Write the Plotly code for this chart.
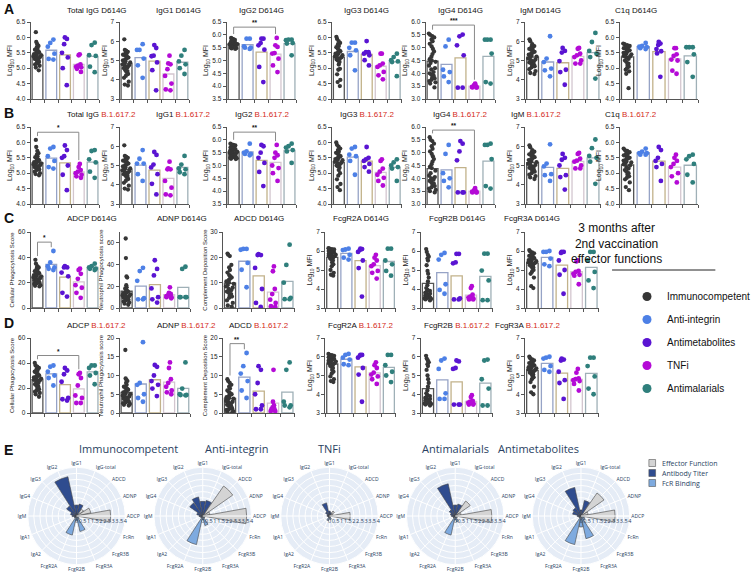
import plotly.graph_objects as go

W, H = 756, 580
FONT = "Arial, Liberation Sans, sans-serif"
PFONT = "Open Sans, sans-serif"
RED = "#d42a20"
AX = "#555555"

GROUPS = ["Immunocompetent", "Anti-integrin", "Antimetabolites", "TNFi", "Antimalarials"]
DOT_COLORS = ["#363636", "#4d80e6", "#5a14d2", "#b40ad6", "#2f7f7c"]
BAR_LINES = ["#555555", "#96a3c6", "#c2b28a", "#d3c6cf", "#9fb0b7"]

# ---------------- data (log10 MFI / scores), groups in GROUPS order ----------------
total_igg_d614g = [
    [6.17, 5.85, 5.78, 5.72, 5.68, 5.63, 5.6, 5.57, 5.55, 5.52, 5.5, 5.48, 5.46, 5.44, 5.42, 5.4, 5.38, 5.36, 5.34, 5.32, 5.3, 5.28, 5.25, 5.22, 5.2, 5.16, 5.12, 5.08, 5.02, 4.93],
    [5.93, 5.82, 5.7, 5.47, 5.28, 5.3],
    [6.0, 5.95, 5.78, 5.5, 5.35, 5.0, 4.45],
    [5.45, 5.42, 5.12, 5.08, 5.05, 5.03, 4.98, 4.88],
    [5.83, 5.75, 5.42, 5.4, 5.05, 4.87]]
igg1_d614g = [
    [6.1, 5.55, 5.5, 5.45, 5.4, 5.35, 5.3, 5.25, 5.2, 5.15, 5.1, 5.05, 5.0, 4.95, 4.9, 4.85, 4.8, 4.75, 4.7, 4.65, 4.6, 4.5, 4.45, 4.4, 4.3, 4.2, 4.1, 3.9, 3.75, 3.7],
    [5.85, 5.55, 5.55, 5.1, 4.75, 4.1],
    [5.8, 5.65, 5.25, 5.22, 4.9, 4.5, 3.45],
    [5.25, 4.85, 4.8, 4.55, 4.2, 3.8, 3.5, 3.45],
    [5.55, 5.25, 4.95, 4.8, 4.6, 4.3]]
igg2_d614g = [
    [5.88, 5.85, 5.83, 5.8, 5.78, 5.76, 5.74, 5.72, 5.7, 5.69, 5.68, 5.67, 5.66, 5.65, 5.64, 5.63, 5.62, 5.61, 5.6, 5.59, 5.58, 5.57, 5.56, 5.55, 5.54, 5.52, 5.5, 5.48, 5.47, 5.45],
    [5.85, 5.85, 5.55, 5.5, 5.5, 5.45],
    [5.85, 5.85, 5.68, 5.59, 5.42, 4.75, 4.16],
    [5.88, 5.59, 5.53, 5.29, 5.27, 5.07, 4.81, 4.55],
    [5.81, 5.81, 5.79, 5.68, 5.66, 5.2]]
igg3_d614g = [
    [6.02, 5.95, 5.88, 5.82, 5.78, 5.72, 5.68, 5.62, 5.58, 5.55, 5.52, 5.5, 5.47, 5.45, 5.42, 5.4, 5.38, 5.35, 5.32, 5.3, 5.28, 5.25, 5.2, 5.12, 4.98, 4.95, 4.8, 4.62, 4.55, 4.42],
    [5.83, 5.83, 5.66, 5.58, 5.42, 4.93],
    [5.88, 5.52, 5.52, 5.47, 5.42, 5.26, 5.09],
    [5.47, 5.47, 5.15, 5.09, 5.04, 4.88, 4.77, 4.64],
    [5.47, 5.36, 5.26, 5.22, 5.2, 4.74]]
igg4_d614g = [
    [5.55, 5.5, 5.45, 5.4, 5.32, 5.25, 5.15, 5.05, 4.95, 4.85, 4.75, 4.65, 4.55, 4.5, 4.45, 4.4, 4.3, 4.2, 4.15, 4.05, 4.0, 3.95, 3.9, 3.85, 3.8, 3.75, 3.7, 3.65, 3.6, 3.45],
    [5.31, 5.05, 4.14, 4.05, 3.88, 3.66],
    [5.51, 5.44, 5.09, 4.7, 3.44, 3.44],
    [3.6, 3.55, 3.5, 3.47, 3.45, 3.45, 3.45, 3.5],
    [5.31, 5.31, 5.31, 4.77, 3.66, 3.6]]
igm_d614g = [
    [6.1, 6.0, 5.85, 5.75, 5.7, 5.65, 5.6, 5.55, 5.5, 5.45, 5.4, 5.35, 5.3, 5.25, 5.2, 5.15, 5.1, 5.05, 5.0, 4.95, 4.9, 4.85, 4.8, 4.75, 4.7, 4.65, 4.55, 4.45, 4.35, 4.3],
    [6.26, 5.1, 4.92, 4.58, 4.49, 4.18],
    [5.65, 5.5, 5.41, 4.97, 4.52, 4.4, 3.74],
    [5.65, 5.61, 5.35, 5.27, 5.18, 5.0, 4.84, 4.84],
    [6.43, 5.96, 5.5, 5.35, 5.18, 4.06]]
c1q_d614g = [
    [5.8, 5.78, 5.75, 5.72, 5.7, 5.68, 5.65, 5.62, 5.6, 5.58, 5.55, 5.52, 5.5, 5.48, 5.45, 5.42, 5.4, 5.38, 5.35, 5.3, 5.25, 5.2, 5.15, 5.1, 5.05, 5.0, 4.95, 4.9, 4.82, 4.35],
    [5.82, 5.72, 5.7, 5.68, 5.65, 5.62],
    [5.85, 5.8, 5.75, 5.62, 5.55, 5.48, 4.72],
    [5.65, 5.65, 5.45, 5.4, 5.28, 5.25, 4.92, 4.82],
    [5.68, 5.68, 5.68, 5.45, 5.2, 4.72]]

total_igg_delta = [
    [6.08, 5.85, 5.72, 5.65, 5.6, 5.55, 5.52, 5.48, 5.45, 5.42, 5.4, 5.38, 5.36, 5.34, 5.32, 5.3, 5.28, 5.26, 5.24, 5.22, 5.2, 5.18, 5.16, 5.14, 5.12, 5.1, 5.05, 5.0, 4.97, 4.93],
    [5.85, 5.8, 5.55, 5.4, 5.2, 5.15],
    [5.9, 5.75, 5.55, 5.5, 5.25, 4.95, 4.45],
    [5.3, 5.2, 5.1, 5.05, 5.0, 4.95, 4.9, 4.85],
    [5.75, 5.72, 5.45, 5.35, 5.05, 4.85]]
igg1_delta = [
    [6.05, 5.5, 5.45, 5.4, 5.35, 5.3, 5.25, 5.2, 5.15, 5.1, 5.05, 5.0, 4.95, 4.9, 4.85, 4.8, 4.75, 4.7, 4.65, 4.6, 4.55, 4.5, 4.45, 4.4, 4.3, 4.2, 4.1, 3.95, 3.8, 3.75],
    [5.8, 5.35, 5.1, 5.1, 4.55, 4.2],
    [5.7, 5.55, 5.05, 4.9, 4.55, 4.05, 3.5],
    [5.2, 4.85, 4.8, 4.8, 4.2, 3.85, 3.5, 3.45],
    [5.5, 5.05, 4.85, 4.8, 4.65, 4.55]]
igg2_delta = [
    [5.85, 5.82, 5.8, 5.78, 5.75, 5.72, 5.7, 5.68, 5.66, 5.64, 5.62, 5.6, 5.58, 5.56, 5.54, 5.52, 5.5, 5.48, 5.46, 5.44, 5.42, 5.4, 5.38, 5.36, 5.34, 5.32, 5.3, 5.28, 5.26, 5.25],
    [5.85, 5.55, 5.5, 5.45, 5.45, 5.4],
    [5.8, 5.75, 5.5, 5.3, 5.1, 4.75, 4.2],
    [5.8, 5.5, 5.4, 5.3, 5.0, 4.9, 4.7, 4.4],
    [5.85, 5.75, 5.7, 5.6, 5.55, 5.1]]
igg3_delta = [
    [6.0, 5.92, 5.86, 5.8, 5.75, 5.7, 5.66, 5.62, 5.58, 5.55, 5.52, 5.49, 5.46, 5.44, 5.42, 5.4, 5.37, 5.34, 5.31, 5.28, 5.25, 5.22, 5.18, 5.1, 5.0, 4.92, 4.8, 4.65, 4.55, 4.45],
    [5.85, 5.8, 5.6, 5.55, 5.4, 4.95],
    [5.85, 5.5, 5.45, 5.4, 5.3, 5.2, 5.05],
    [5.45, 5.4, 5.15, 5.05, 4.95, 4.85, 4.75, 4.6],
    [5.45, 5.35, 5.25, 5.2, 5.15, 4.75]]
igg4_delta = [
    [5.6, 5.5, 5.45, 5.35, 5.25, 5.15, 5.05, 4.95, 4.85, 4.75, 4.65, 4.55, 4.45, 4.4, 4.3, 4.2, 4.1, 4.05, 4.0, 3.95, 3.9, 3.85, 3.8, 3.75, 3.7, 3.65, 3.6, 3.55, 3.5, 3.45],
    [5.3, 4.95, 4.2, 4.0, 3.9, 3.65],
    [5.45, 5.35, 5.05, 4.7, 3.45, 3.45, 3.45],
    [3.62, 3.55, 3.5, 3.48, 3.46, 3.45, 3.45, 3.5],
    [5.35, 5.3, 5.3, 4.75, 3.7, 3.6]]
igm_delta = [
    [6.05, 5.95, 5.8, 5.72, 5.68, 5.62, 5.58, 5.52, 5.48, 5.43, 5.38, 5.33, 5.28, 5.23, 5.18, 5.13, 5.08, 5.03, 4.98, 4.93, 4.88, 4.83, 4.78, 4.73, 4.68, 4.6, 4.52, 4.45, 4.38, 4.3],
    [6.1, 5.1, 4.95, 4.55, 4.5, 4.2],
    [5.6, 5.4, 5.3, 5.0, 4.5, 4.4, 3.75],
    [5.65, 5.6, 5.35, 5.25, 5.2, 5.0, 4.85, 4.85],
    [6.35, 5.9, 5.5, 5.4, 5.2, 4.05]]
c1q_delta = [
    [5.8, 5.75, 5.72, 5.68, 5.65, 5.62, 5.58, 5.55, 5.52, 5.5, 5.47, 5.44, 5.41, 5.38, 5.35, 5.32, 5.29, 5.25, 5.2, 5.15, 5.1, 5.05, 5.0, 4.95, 4.9, 4.85, 4.8, 4.7, 4.55, 4.45],
    [5.8, 5.7, 5.65, 5.65, 5.6, 5.6],
    [5.85, 5.75, 5.5, 5.4, 5.3, 5.2, 4.75],
    [5.6, 5.5, 5.4, 5.3, 5.2, 5.0, 4.9, 4.7],
    [5.6, 5.55, 5.45, 5.3, 4.95, 4.7]]

adcp_d614g = [
    [38, 35, 33, 32, 31, 30, 29, 28.5, 28, 27.5, 27, 26.5, 26, 25.5, 25, 24.5, 24, 23.5, 23, 22.5, 22, 21.5, 21, 20.5, 20, 19.5, 19, 18, 17.5, 17],
    [45, 36, 33, 32, 31, 30],
    [33, 32, 32, 28, 25, 12, 9],
    [31, 30, 27, 23, 18, 16, 12, 8],
    [35, 33, 32, 31, 31, 30]]
adnp_d614g = [
    [64, 46, 29, 28, 21, 19, 18, 17, 16, 15, 14.5, 14, 13.5, 13, 12.5, 12, 11.5, 11, 10.5, 10, 9.5, 9, 8.5, 8, 7.5, 7, 6, 5, 4, 3],
    [37, 34, 25, 9, 8, 8],
    [44, 36, 30, 18, 10, 8, 5],
    [19, 14, 13, 12, 11, 10, 10, 9],
    [38, 36, 10, 10, 10, 10]]
adcd_d614g = [
    [21.5, 21, 20.5, 17, 16, 15, 14, 13, 12.5, 12, 11.5, 11, 10.5, 10, 9.5, 9, 8.5, 8, 7.5, 7, 6.5, 6, 5.5, 5, 4.5, 4, 3, 2, 1, 0.5],
    [23.3, 23.3, 23, 17.8, 15.1, 8.2],
    [21.3, 20.9, 20.9, 15.8, 7.5, 2, 0.4],
    [16.4, 14.5, 7.5, 5.5, 3.3, 2.0, 0.7, 0.4],
    [25, 17, 10, 4, 3.5, 3.5]]
fcgr2a_d614g = [
    [6.15, 6.12, 6.1, 6.08, 6.05, 6.02, 6.0, 5.98, 5.95, 5.92, 5.9, 5.88, 5.85, 5.82, 5.8, 5.78, 5.75, 5.72, 5.7, 5.65, 5.6, 5.55, 5.5, 5.4, 5.3, 5.2, 5.0, 4.85, 4.75, 4.7],
    [6.12, 6.08, 6.05, 5.8, 5.65, 5.55],
    [6.12, 6.1, 6.05, 5.95, 5.5, 5.1, 3.6],
    [5.8, 5.65, 5.5, 5.3, 5.2, 4.95, 4.85, 4.55],
    [6.12, 6.12, 5.5, 5.3, 4.95, 4.7]]
fcgr2b_d614g = [
    [6.1, 5.95, 5.8, 5.7, 5.6, 5.5, 5.25, 4.95, 4.8, 4.6, 4.4, 4.2, 4.05, 3.95, 3.9, 3.85, 3.8, 3.75, 3.7, 3.68, 3.65, 3.62, 3.6, 3.58, 3.55, 3.52, 3.5, 3.48, 3.45, 3.4],
    [5.9, 5.8, 5.55, 4.25, 3.95, 3.75],
    [5.85, 5.85, 5.4, 5.35, 3.5, 3.45, 3.45],
    [4.15, 4.05, 3.7, 3.6, 3.55, 3.5, 3.45, 3.45],
    [5.86, 5.86, 4.97, 4.45, 3.41, 3.41]]
fcgr3a_d614g = [
    [6.05, 5.98, 5.92, 5.88, 5.82, 5.78, 5.74, 5.7, 5.66, 5.62, 5.58, 5.55, 5.52, 5.49, 5.46, 5.43, 5.4, 5.37, 5.34, 5.3, 5.25, 5.2, 5.15, 5.1, 5.0, 4.9, 4.8, 4.6, 4.15, 4.05],
    [6.0, 5.95, 5.95, 5.6, 5.3, 5.2],
    [5.95, 5.95, 5.9, 5.5, 5.0, 4.75, 3.75],
    [5.5, 5.45, 4.95, 4.9, 4.8, 4.75, 4.7, 4.25],
    [5.95, 5.95, 5.5, 4.9, 4.45, 4.05]]

adcp_delta = [
    [40, 38, 37, 36, 35, 34, 33, 32, 31, 30, 29.5, 29, 28.5, 28, 27.5, 27, 26.5, 26, 25, 24, 23, 22, 21, 20, 19, 18, 17, 16, 15, 13],
    [38, 37, 33, 30, 28, 22],
    [36, 34, 31, 25, 12, 11, 10],
    [32, 31, 28, 22, 14, 12, 8, 8],
    [38, 38, 36, 32, 30, 23]]
adnp_delta = [
    [16.8, 9.2, 8.8, 8.5, 8, 7.5, 7, 6.8, 6.5, 6.2, 6, 5.8, 5.5, 5.2, 5, 4.8, 4.6, 4.4, 4.2, 4, 3.8, 3.6, 3.4, 3.2, 3, 2.8, 2.6, 2.4, 2.2, 2],
    [18.9, 8, 7.5, 5, 4, 3],
    [12.8, 12.3, 10, 8.5, 7.5, 6.5, 4.5],
    [13.5, 12, 9, 8, 7, 6, 5.5, 5],
    [13.5, 6.5, 5, 4.8, 4.7, 4.8]]
adcd_delta = [
    [9, 8.5, 8, 7.5, 7, 6.5, 6, 5.5, 5.2, 5, 4.8, 4.5, 4.2, 4, 3.8, 3.5, 3.2, 3, 2.8, 2.5, 2.2, 2, 1.8, 1.5, 1.2, 1, 0.8, 0.5, 0.3, 0.1],
    [16, 12.5, 10.5, 8.5, 6, 4],
    [12.5, 11.5, 8, 5, 2, 1, 1],
    [11.5, 3, 2, 1.5, 1, 1, 0.5, 0.5],
    [13.5, 11.5, 3, 2, 1.5, 2]]
fcgr2a_delta = [
    [6.15, 6.1, 6.08, 6.05, 6.02, 6.0, 5.97, 5.94, 5.91, 5.88, 5.85, 5.82, 5.8, 5.77, 5.74, 5.71, 5.68, 5.65, 5.62, 5.58, 5.52, 5.46, 5.4, 5.3, 5.2, 5.1, 4.95, 4.8, 4.7, 4.65],
    [6.15, 6.1, 5.95, 5.85, 5.6, 5.55],
    [6.1, 6.1, 6.05, 5.95, 5.4, 5.05, 3.6],
    [5.7, 5.55, 5.4, 5.15, 5.05, 4.95, 4.8, 4.55],
    [6.1, 6.1, 5.55, 5.2, 5.0, 4.65]]
fcgr2b_delta = [
    [6.05, 5.9, 5.8, 5.7, 5.6, 5.5, 5.3, 5.0, 4.8, 4.6, 4.4, 4.2, 4.05, 3.95, 3.9, 3.85, 3.8, 3.75, 3.7, 3.68, 3.65, 3.62, 3.6, 3.58, 3.55, 3.52, 3.5, 3.48, 3.45, 3.4],
    [5.9, 5.8, 5.35, 4.05, 3.75, 3.75],
    [5.8, 5.75, 5.4, 5.35, 3.45, 3.45, 3.45],
    [3.95, 3.85, 3.65, 3.6, 3.55, 3.5, 3.45, 3.45],
    [5.85, 5.8, 4.8, 4.3, 3.4, 3.4]]
fcgr3a_delta = [
    [6.0, 5.92, 5.86, 5.8, 5.75, 5.7, 5.66, 5.62, 5.58, 5.54, 5.5, 5.47, 5.44, 5.41, 5.38, 5.35, 5.32, 5.28, 5.24, 5.2, 5.15, 5.1, 5.05, 5.0, 4.9, 4.8, 4.65, 4.4, 4.1, 4.0],
    [6.0, 5.95, 5.9, 5.5, 5.3, 5.2],
    [5.9, 5.85, 5.8, 5.2, 4.75, 4.6, 3.75],
    [5.35, 5.15, 4.85, 4.8, 4.75, 4.7, 4.55, 4.2],
    [5.95, 5.95, 5.5, 4.95, 4.3, 4.0]]

# polar (panel E): categories clockwise from top, feature type, and scores per group
POLAR_CATS = ["IgG1", "IgG-total", "ADCD", "ADNP", "ADCP", "FcRn", "FcgR3B", "FcgR3A",
              "FcgR2B", "FcgR2A", "IgA2", "IgA1", "IgM", "IgG4", "IgG3", "IgG2"]
POLAR_TYPE = ["Antibody Titer", "Antibody Titer", "Effector Function", "Effector Function", "Effector Function",
              "FcR Binding", "FcR Binding", "FcR Binding", "FcR Binding", "FcR Binding",
              "Antibody Titer", "Antibody Titer", "Antibody Titer", "Antibody Titer", "Antibody Titer", "Antibody Titer"]
polar_immunocompetent = [0.9, 1.0, 0.7, 1.2, 2.8, 0.2, 0.3, 1.3, 0.4, 1.6, 0.2, 0.2, 0.35, 0.5, 1.0, 3.3]
polar_anti_integrin = [1.2, 1.3, 3.0, 0.6, 3.6, 0.2, 0.2, 0.8, 0.3, 2.4, 0.2, 0.2, 0.3, 0.5, 1.3, 1.6]
polar_tnfi = [0.4, 0.3, 0.5, 0.3, 1.7, 0.1, 0.1, 0.3, 0.2, 0.4, 0.1, 0.1, 0.2, 0.2, 0.4, 1.1]
polar_antimalarials = [0.9, 1.0, 1.5, 0.5, 3.0, 0.2, 0.2, 0.5, 0.3, 1.6, 0.2, 0.2, 0.3, 0.4, 0.6, 2.7]
polar_antimetabolites = [0.5, 1.3, 2.3, 0.6, 2.8, 0.3, 0.4, 1.9, 0.9, 2.4, 0.2, 0.2, 0.3, 0.7, 0.8, 2.4]
POLAR_TITLES = ["Immunocompetent", "Anti-integrin", "TNFi", "Antimalarials", "Antimetabolites"]
POLAR_DATA = [polar_immunocompetent, polar_anti_integrin, polar_tnfi, polar_antimalarials, polar_antimetabolites]
TYPE_ORDER = ["Effector Function", "Antibody Titer", "FcR Binding"]
TYPE_COLORS = {"Effector Function": "#d4d4d4", "Antibody Titer": "#2f4c8f", "FcR Binding": "#7eaadf"}

LOG = "Log<sub>10</sub> MFI"
# (row, col, name, variant, y title, data, y min, y max, dtick, tick format)
PANELS = [
    ("A", 0, "Total IgG", "D614G", LOG, total_igg_d614g, 4, 6.5, 0.5, ".1f"),
    ("A", 1, "IgG1", "D614G", LOG, igg1_d614g, 3, 7, 1, "d"),
    ("A", 2, "IgG2", "D614G", LOG, igg2_d614g, 3.5, 6.5, 0.5, ".1f"),
    ("A", 3, "IgG3", "D614G", LOG, igg3_d614g, 4, 6.5, 0.5, ".1f"),
    ("A", 4, "IgG4", "D614G", LOG, igg4_d614g, 3, 6, 0.5, ".1f"),
    ("A", 5, "IgM", "D614G", LOG, igm_d614g, 3, 7, 1, "d"),
    ("A", 6, "C1q", "D614G", LOG, c1q_d614g, 4, 6.5, 0.5, ".1f"),
    ("B", 0, "Total IgG", "B.1.617.2", LOG, total_igg_delta, 4, 6.5, 0.5, ".1f"),
    ("B", 1, "IgG1", "B.1.617.2", LOG, igg1_delta, 3, 7, 1, "d"),
    ("B", 2, "IgG2", "B.1.617.2", LOG, igg2_delta, 3.5, 6.5, 0.5, ".1f"),
    ("B", 3, "IgG3", "B.1.617.2", LOG, igg3_delta, 4, 6.5, 0.5, ".1f"),
    ("B", 4, "IgG4", "B.1.617.2", LOG, igg4_delta, 3, 6, 0.5, ".1f"),
    ("B", 5, "IgM", "B.1.617.2", LOG, igm_delta, 3, 7, 1, "d"),
    ("B", 6, "C1q", "B.1.617.2", LOG, c1q_delta, 4, 6.5, 0.5, ".1f"),
    ("C", 0, "ADCP", "D614G", "Cellular Phagocytosis Score", adcp_d614g, 0, 60, 20, "d"),
    ("C", 1, "ADNP", "D614G", "Neutrophil Phagocytosis score", adnp_d614g, 0, 70, 20, "d"),
    ("C", 2, "ADCD", "D614G", "Complement Deposition Score", adcd_d614g, 0, 30, 10, "d"),
    ("C", 3, "FcgR2A", "D614G", LOG, fcgr2a_d614g, 3, 7, 1, "d"),
    ("C", 4, "FcgR2B", "D614G", LOG, fcgr2b_d614g, 3, 7, 1, "d"),
    ("C", 5, "FcgR3A", "D614G", LOG, fcgr3a_d614g, 3, 7, 1, "d"),
    ("D", 0, "ADCP", "B.1.617.2", "Cellular Phagocytosis Score", adcp_delta, 0, 60, 20, "d"),
    ("D", 1, "ADNP", "B.1.617.2", "Neutrophil Phagocytosis score", adnp_delta, 0, 20, 5, "d"),
    ("D", 2, "ADCD", "B.1.617.2", "Complement Deposition Score", adcd_delta, 0, 20, 5, "d"),
    ("D", 3, "FcgR2A", "B.1.617.2", LOG, fcgr2a_delta, 3, 7, 1, "d"),
    ("D", 4, "FcgR2B", "B.1.617.2", LOG, fcgr2b_delta, 3, 7, 1, "d"),
    ("D", 5, "FcgR3A", "B.1.617.2", LOG, fcgr3a_delta, 3, 7, 1, "d"),
]
# significance: (panel index, group a, group b, label, bracket level)
BRACKETS = [(2, 0, 3, "**", 6.3), (4, 0, 3, "***", 5.88), (7, 0, 3, "*", 6.33), (9, 0, 3, "**", 6.3),
            (11, 0, 3, "**", 5.88), (14, 0, 1, "*", 52), (20, 0, 3, "*", 46), (22, 0, 1, "**", 18.5)]

# ---------------- layout geometry (pixels) ----------------
def fx(p): return p / W
def fy(p): return 1 - p / H

AB_COLS = [(32, 104), (125, 198), (237, 310), (347, 420), (445, 518), (549, 628), (648, 730)]
CD_COLS = [(32, 104), (125, 199), (233, 308), (340, 414), (440, 515), (549, 626)]
ROWS = {"A": (22, 99, 10), "B": (127, 204, 114), "C": (232, 308, 219), "D": (338, 413, 325)}

fig = go.Figure()
layout = {}
annotations = []
shapes = []

for i, (row, col, name, variant, ytitle, data, lo, hi, dt, fmt) in enumerate(PANELS):
    n = i + 1
    sx = "" if n == 1 else str(n)
    xa, ya = "x" + sx, "y" + sx
    x0, x1 = (AB_COLS if row in "AB" else CD_COLS)[col]
    top, bot, ty = ROWS[row]
    layout["xaxis" + sx] = dict(domain=[fx(x0), fx(x1)], anchor=ya, range=[-0.5, 4.5], showline=True,
                                linecolor=AX, linewidth=1, ticks="outside", tickmode="array",
                                tickvals=[k - 0.5 for k in range(6)], ticklen=3, tickcolor=AX,
                                showticklabels=False, showgrid=False, zeroline=False)
    tsize = 7 if ytitle == LOG else 6
    layout["yaxis" + sx] = dict(domain=[fy(bot), fy(top)], anchor=xa, range=[lo, hi], dtick=dt, tick0=0,
                                tickformat=fmt, showline=True, linecolor=AX, linewidth=1, ticks="outside",
                                ticklen=3, tickcolor=AX, showgrid=False, zeroline=False,
                                tickfont=dict(size=6.5, family=FONT, color="#222"),
                                title=dict(text=ytitle, font=dict(size=tsize, family=FONT, color="#222"), standoff=2))
    means = [sum(v) / len(v) for v in data]
    fig.add_trace(go.Bar(x=list(range(5)), y=means, width=0.78, xaxis=xa, yaxis=ya, showlegend=False,
                         marker=dict(color="white", line=dict(color=BAR_LINES, width=1.3)), hoverinfo="skip"))
    for g, vals in enumerate(data):
        fig.add_trace(go.Box(y=vals, x0=g, width=0.66, boxpoints="all", jitter=0.9, pointpos=0,
                             fillcolor="rgba(0,0,0,0)", line=dict(color="rgba(0,0,0,0)", width=0),
                             marker=dict(color=DOT_COLORS[g], size=4.3 if g == 0 else 4.8),
                             xaxis=xa, yaxis=ya, showlegend=False, hoverinfo="skip"))
    vt = f'<span style="color:{RED}">{variant}</span>' if row in "BD" else variant
    annotations.append(dict(text=f"{name} {vt}", x=fx((x0 + x1) / 2), y=fy(ty), xref="paper", yref="paper",
                            showarrow=False, font=dict(size=8, family=FONT, color="#111"), yanchor="middle"))

for (pi, a, b, lab, lev) in BRACKETS:
    n = pi + 1
    sx = "" if n == 1 else str(n)
    lo, hi = PANELS[pi][6], PANELS[pi][7]
    data = PANELS[pi][5]
    gap = 0.05 * (hi - lo)
    ya_, yb_ = max(data[a]) + gap, max(data[b]) + gap
    shapes.append(dict(type="path", xref="x" + sx, yref="y" + sx,
                       path=f"M {a},{ya_} L {a},{lev} L {b},{lev} L {b},{yb_}",
                       line=dict(color="#8a8a8a", width=1)))
    annotations.append(dict(text=f"<b>{lab}</b>", x=(a + b) / 2, y=lev, xref="x" + sx, yref="y" + sx,
                            showarrow=False, yanchor="bottom", yshift=-1,
                            font=dict(size=6.5, family=FONT, color="#111")))

# panel letters
for letter, py in [("A", 9), ("B", 113), ("C", 218), ("D", 323), ("E", 450)]:
    annotations.append(dict(text=f"<b>{letter}</b>", x=fx(2), y=fy(py), xref="paper", yref="paper",
                            xanchor="left", yanchor="middle", showarrow=False,
                            font=dict(size=14, family=FONT, color="#111")))

# group legend heading
annotations.append(dict(text="3 months after<br>2nd vaccination<br>effector functions", x=fx(694), y=fy(243),
                        xref="paper", yref="paper", showarrow=False, align="center", yanchor="middle",
                        font=dict(size=12, family=FONT, color="#111")))
shapes.append(dict(type="line", xref="paper", yref="paper", x0=fx(640), x1=fx(748), y0=fy(270), y1=fy(270),
                   line=dict(color="#222", width=1)))
for g, c in enumerate(DOT_COLORS):
    fig.add_trace(go.Scatter(x=[None], y=[None], mode="markers", name=GROUPS[g], legend="legend2",
                             legendgroup=GROUPS[g], marker=dict(size=9, color=c), showlegend=True))

# ---------------- polar panel E ----------------
POLAR_CX = [80, 212, 344.5, 476, 607.5]
CY, R = 516, 51
for k, (title, vals) in enumerate(zip(POLAR_TITLES, POLAR_DATA)):
    key = "polar" if k == 0 else f"polar{k + 1}"
    cx = POLAR_CX[k]
    layout[key] = dict(domain=dict(x=[fx(cx - R), fx(cx + R)], y=[fy(CY + R), fy(CY - R)]),
                       bgcolor="#E5ECF6", bargap=0.1,
                       radialaxis=dict(range=[0, 4], dtick=0.5, gridcolor="white", linecolor="white",
                                       showline=True, ticks="", angle=0, tickangle=0,
                                       tickfont=dict(size=5.5, family=PFONT, color="#2a3f5f")),
                       angularaxis=dict(rotation=90, direction="clockwise", categoryorder="array",
                                        categoryarray=POLAR_CATS, gridcolor="white", linecolor="white",
                                        ticks="", tickfont=dict(size=5, family=PFONT, color="#2a3f5f")))
    for t in TYPE_ORDER:
        th = [c for c, tp in zip(POLAR_CATS, POLAR_TYPE) if tp == t]
        rr = [v for v, tp in zip(vals, POLAR_TYPE) if tp == t]
        fig.add_trace(go.Barpolar(r=rr, theta=th, subplot=key, name=t, showlegend=False,
                                  marker=dict(color=TYPE_COLORS[t], line=dict(color="#444", width=0.6)),
                                  hoverinfo="skip"))
    annotations.append(dict(text=title, x=fx(cx), y=fy(448), xref="paper", yref="paper", showarrow=False,
                            yanchor="middle", font=dict(size=11, family=PFONT, color="#2a3f5f")))

# polar legend (swatches + labels)
for j, t in enumerate(TYPE_ORDER):
    py = 463 + 10 * j
    shapes.append(dict(type="rect", xref="paper", yref="paper", x0=fx(678.5), x1=fx(685.5),
                       y0=fy(py + 3.5), y1=fy(py - 3.5), fillcolor=TYPE_COLORS[t],
                       line=dict(color="#555", width=0.6)))
    annotations.append(dict(text=t, x=fx(690), y=fy(py), xref="paper", yref="paper", xanchor="left",
                            yanchor="middle", showarrow=False, font=dict(size=7, family=PFONT, color="#2a3f5f")))

layout.update(dict(
    width=W, height=H, margin=dict(l=0, r=0, t=0, b=0), template="none",
    paper_bgcolor="white", plot_bgcolor="white", barmode="overlay", boxmode="overlay",
    showlegend=True, hovermode=False, annotations=annotations, shapes=shapes,
    font=dict(family=FONT, size=7, color="#222"),
    legend2=dict(x=fx(656), y=fy(282), xanchor="left", yanchor="top", tracegroupgap=4,
                 bgcolor="rgba(0,0,0,0)", font=dict(size=10, family=FONT, color="#111")),
))
fig.update_layout(layout)
fig.write_html("out.html", config={"displayModeBar": False},
               post_script="document.body.style.margin='0';document.body.style.overflow='hidden';")
